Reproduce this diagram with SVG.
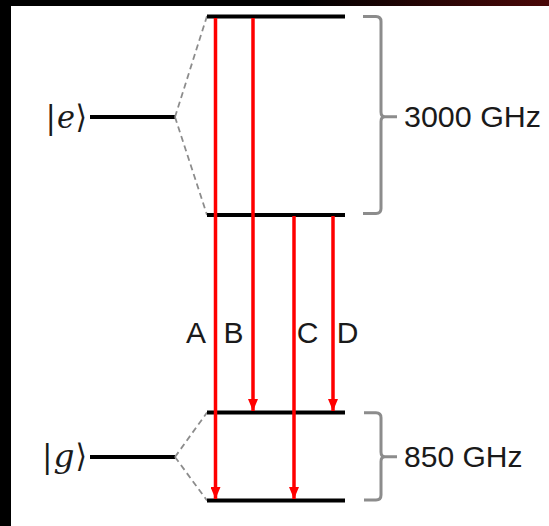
<svg xmlns="http://www.w3.org/2000/svg" width="549" height="526" viewBox="0 0 549 526">
<defs>
<linearGradient id="topband" x1="0" y1="0" x2="1" y2="0">
<stop offset="0" stop-color="#000"/>
<stop offset="0.55" stop-color="#000"/>
<stop offset="0.8" stop-color="#2a0505"/>
<stop offset="1" stop-color="#4a0808"/>
</linearGradient>
<marker id="arr" viewBox="0 0 12 10" refX="12" refY="5" markerWidth="12" markerHeight="10" markerUnits="userSpaceOnUse" orient="auto">
<path d="M0,0 L12,5 L0,10 Z" fill="#ff0000"/>
</marker>
<style>
.level{stroke:#000;stroke-width:4;fill:none}
.dash{stroke:#8c8c8c;stroke-width:1.8;stroke-dasharray:6 4;fill:none}
.tr{stroke:#ff0000;stroke-width:3.5;fill:none}
.brace{stroke:#8c8c8c;stroke-width:3;fill:none;stroke-linejoin:round}
.lbl{font-family:"Liberation Sans",Arial,sans-serif;font-size:30px;fill:#1a1a1a}
.ket{font-family:"DejaVu Serif",serif;font-size:32px;fill:#1a1a1a}
.it{font-style:italic}
</style>
</defs>
<rect x="0" y="0" width="549" height="526" fill="#fff"/>
<rect x="0" y="0" width="549" height="6" fill="url(#topband)"/>
<rect x="0" y="0" width="11" height="526" fill="#000"/>

<g id="excited">
<text class="ket" x="45.5" y="128" textLength="10.5" lengthAdjust="spacingAndGlyphs">|</text>
<text class="ket it" x="57" y="128" textLength="18" lengthAdjust="spacingAndGlyphs">e</text>
<text class="ket" x="75.5" y="128" textLength="11.5" lengthAdjust="spacingAndGlyphs">⟩</text>
<line class="level" x1="90" y1="117" x2="175" y2="117"/>
<line class="dash" x1="175" y1="117" x2="207" y2="16"/>
<line class="dash" x1="175" y1="117" x2="207" y2="215"/>
</g>
<g id="e-upper"><line class="level" x1="207" y1="16.5" x2="345" y2="16.5"/></g>
<g id="e-lower"><line class="level" x1="207" y1="215" x2="345" y2="215"/></g>

<g id="ground">
<text class="ket" x="42" y="467" textLength="10.5" lengthAdjust="spacingAndGlyphs">|</text>
<text class="ket it" x="53.5" y="467" textLength="21" lengthAdjust="spacingAndGlyphs">g</text>
<text class="ket" x="75.5" y="467" textLength="11.5" lengthAdjust="spacingAndGlyphs">⟩</text>
<line class="level" x1="90" y1="457" x2="175" y2="457"/>
<line class="dash" x1="175" y1="457" x2="207" y2="412.5"/>
<line class="dash" x1="175" y1="457" x2="207" y2="500.5"/>
</g>
<g id="g-upper"><line class="level" x1="207" y1="412.5" x2="345" y2="412.5"/></g>
<g id="g-lower"><line class="level" x1="207" y1="500.5" x2="345" y2="500.5"/></g>

<g id="connectors">
<line class="tr" x1="215.5" y1="18" x2="215.5" y2="499" marker-end="url(#arr)"/>
<line class="tr" x1="253" y1="18" x2="253" y2="411" marker-end="url(#arr)"/>
<line class="tr" x1="294" y1="216" x2="294" y2="499" marker-end="url(#arr)"/>
<line class="tr" x1="333" y1="216" x2="333" y2="411" marker-end="url(#arr)"/>
</g>

<g id="labels">
<text class="lbl" x="196" y="343" text-anchor="middle">A</text>
<text class="lbl" x="233.5" y="343" text-anchor="middle">B</text>
<text class="lbl" x="307.5" y="343" text-anchor="middle">C</text>
<text class="lbl" x="347.5" y="343" text-anchor="middle">D</text>
</g>

<g id="brace-e">
<path class="brace" d="M363,16.5 H376 Q381,16.5 381,21.5 V112 Q381,116.7 385,116.7 H397 M385,116.7 Q381,116.7 381,121.5 V208.5 Q381,213.5 376,213.5 H363"/>
<text class="lbl" x="404" y="126.7" textLength="137" lengthAdjust="spacingAndGlyphs">3000 GHz</text>
</g>
<g id="brace-g">
<path class="brace" d="M364,412.7 H376 Q381,412.7 381,417.7 V452 Q381,456.7 385,456.7 H397 M385,456.7 Q381,456.7 381,461.5 V495 Q381,500 376,500 H364"/>
<text class="lbl" x="404" y="467.3" textLength="118.5" lengthAdjust="spacingAndGlyphs">850 GHz</text>
</g>
</svg>
